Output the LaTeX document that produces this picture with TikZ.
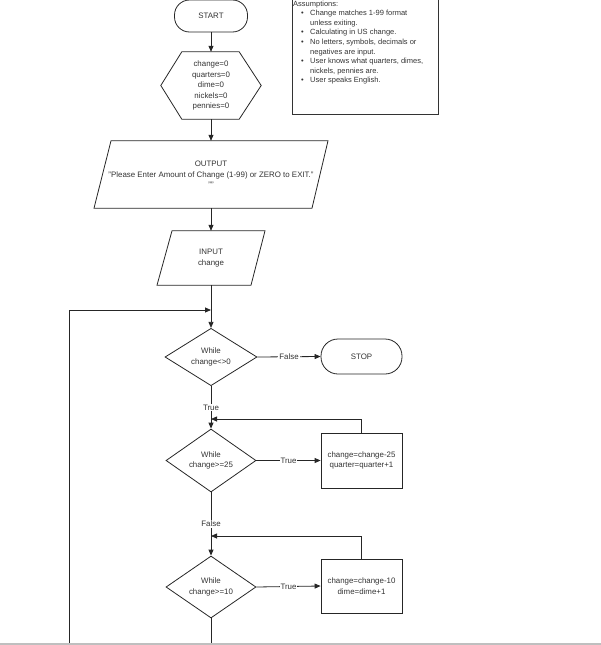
\documentclass[tikz,border=0pt]{standalone}
\usepackage{fontspec}
\setmainfont{Liberation Sans}
\usetikzlibrary{arrows.meta,shapes.geometric,calc}
\begin{document}
\begin{tikzpicture}[x=1pt,y=-1pt,
  every node/.style={font=\fontsize{7.9}{10.5}\selectfont, text=black!80},
  ln/.style={draw=black!85, line width=0.8pt},
  arr/.style={ln, -{Triangle[length=6pt,width=5pt]}},
  term/.style={draw=black!85, line width=0.8pt, rounded corners=15pt, minimum width=73pt, minimum height=32pt, inner sep=0},
  procbox/.style={draw=black!85, line width=0.8pt, minimum width=81pt, minimum height=55pt, align=center, inner sep=0},
  dec/.style={draw=black!85, line width=0.8pt, diamond, inner sep=0, align=center},
  plain/.style={inner sep=0, align=center},
  lbl/.style={fill=white, inner sep=1pt}
]
\useasboundingbox (0,0) rectangle (601,645);

% assumptions
\draw[draw=black!80, line width=1pt] (292,-3) rectangle (438,114);
\node[anchor=north west, align=left, inner sep=0, font=\fontsize{7.5}{9.6}\selectfont] (assump) at (293,0.5) {%
Assumptions:\\
\makebox[17pt][l]{\hspace*{8pt}\textbullet}Change matches 1-99 format\\
\hspace*{17pt}unless exiting.\\
\makebox[17pt][l]{\hspace*{8pt}\textbullet}Calculating in US change.\\
\makebox[17pt][l]{\hspace*{8pt}\textbullet}No letters, symbols, decimals or\\
\hspace*{17pt}negatives are input.\\
\makebox[17pt][l]{\hspace*{8pt}\textbullet}User knows what quarters, dimes,\\
\hspace*{17pt}nickels, pennies are.\\
\makebox[17pt][l]{\hspace*{8pt}\textbullet}User speaks English.};

% start
\node[term] (start) at (211,16) {START};

% hexagon
\node[plain, minimum width=100pt, minimum height=67pt] (init) at (211,85.5) {change=0\\quarters=0\\dime=0\\nickels=0\\pennies=0};
\draw[ln] (init.west) -- ($(init.north west)+(21,0)$) -- ($(init.north east)+(-22,0)$) -- (init.east) -- ($(init.south east)+(-22,0)$) -- ($(init.south west)+(21,0)$) -- cycle;

% output
\node[plain, minimum width=200pt, minimum height=67pt] (out) at (211,174.5) {OUTPUT\\"Please Enter Amount of Change (1-99) or ZERO to EXIT."\\""};
\draw[ln] ($(out.north)+(-100,0)$) -- ($(out.north)+(117,0)$) -- ($(out.south)+(101,0)$) -- ($(out.south)+(-117,0)$) -- cycle;

% input
\node[plain, minimum width=80pt, minimum height=54pt] (inp) at (211,258) {INPUT\\change};
\draw[ln] ($(inp.north)+(-39,0)$) -- ($(inp.north)+(54,0)$) -- ($(inp.south)+(40,0)$) -- ($(inp.south)+(-54,0)$) -- cycle;

% decisions
\node[dec, minimum width=92pt, minimum height=54pt] (d1) at (211,357) {While\\change<>0};
\node[term, minimum width=81pt, minimum height=35pt, rounded corners=17pt] (stop) at (361.5,356.5) {STOP};
\node[dec, minimum width=90pt, minimum height=63pt] (d2) at (211,460.5) {While\\change>=25};
\node[procbox] (r1) at (361.5,460.5) {change=change-25\\quarter=quarter+1};
\node[dec, minimum width=90pt, minimum height=62pt] (d3) at (211,587) {While\\change>=10};
\node[procbox, minimum height=54pt] (r2) at (361.5,586) {change=change-10\\dime=dime+1};

\coordinate (loopL) at (69,643);
\coordinate (merge) at (211,310);
\coordinate (j1) at (211,419);
\coordinate (j2) at (211,536);
\coordinate (bot) at (211,643);

% connectors
\draw[arr] (start.south) -- (init.north);
\draw[arr] (init.south) -- (out.north);
\draw[arr] (out.south) -- (inp.north);
\draw[arr] (inp.south) -- (d1.north);
\draw[arr] (loopL) |- (merge);
\draw[arr] (d1.east) -- node[lbl]{False} (stop.west);
\draw[arr] (d1.south) -- node[lbl]{True} (d2.north);
\draw[arr] (d2.east) -- node[lbl]{True} (r1.west);
\draw[arr] (r1.north) |- (j1);
\draw[arr] (d2.south) -- node[lbl]{False} (d3.north);
\draw[arr] (d3.east) -- node[lbl]{True} (r2.west);
\draw[arr] (r2.north) |- (j2);
\draw[ln] (d3.south) -- (bot);

% page cut line
\draw[black!25, line width=2pt] (0,644) -- (601,644);
\end{tikzpicture}
\end{document}
